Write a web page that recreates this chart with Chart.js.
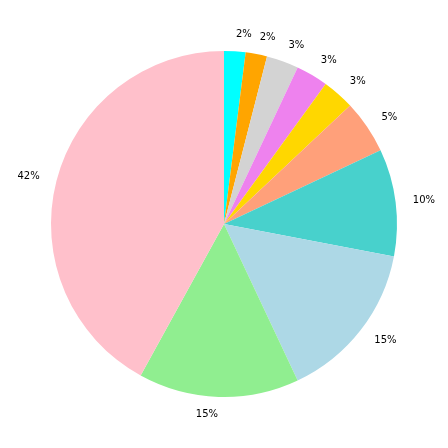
<!DOCTYPE html>
<html>
<head>
<meta charset="utf-8">
<script src="https://cdn.jsdelivr.net/npm/chart.js@4"></script>
<style>
  html, body { margin: 0; padding: 0; background: #fff; }
  #wrap { width: 448px; height: 448px; }
</style>
</head>
<body>
<div id="wrap"><canvas id="pieChart"></canvas></div>
<script>
const labels = ['A', 'B', 'C', 'D', 'E', 'F', 'G', 'H', 'I', 'J'];
const shares = [2, 2, 3, 3, 3, 5, 10, 15, 15, 42];
const pctLabels = ['2%', '2%', '3%', '3%', '3%', '5%', '10%', '15%', '15%', '42%'];
const colors = ['#00ffff', '#ffa500', '#d3d3d3', '#ee82ee', '#ffd700',
  '#ffa07a', '#48d1cc', '#add8e6', '#90ee90', '#ffc0cb'];

// percent labels outside the slices, like matplotlib autopct at 1.1 r
const outsideLabels = {
  id: 'outsideLabels',
  afterDatasetsDraw(chart) {
    const ctx = chart.ctx;
    const arcs = chart.getDatasetMeta(0).data;
    ctx.save();
    ctx.font = '10px "DejaVu Sans"';
    ctx.fillStyle = '#000';
    ctx.textBaseline = 'middle';
    arcs.forEach((arc, i) => {
      const mid = (arc.startAngle + arc.endAngle) / 2;
      const r = arc.outerRadius * 1.1;
      const x = arc.x + Math.cos(mid) * r;
      const y = arc.y + Math.sin(mid) * r;
      ctx.textAlign = Math.cos(mid) > 0 ? 'left' : 'right';
      ctx.fillText(pctLabels[i], x, y);
    });
    ctx.restore();
  }
};

new Chart(document.getElementById('pieChart'), {
  type: 'pie',
  data: {
    labels,
    datasets: [{
      data: shares,
      backgroundColor: colors,
      borderWidth: 0
    }]
  },
  options: {
    responsive: true,
    maintainAspectRatio: false,
    animation: false,
    layout: { padding: 51 },
    plugins: {
      legend: { display: false },
      tooltip: { enabled: false }
    }
  },
  plugins: [outsideLabels]
});
</script>
</body>
</html>
